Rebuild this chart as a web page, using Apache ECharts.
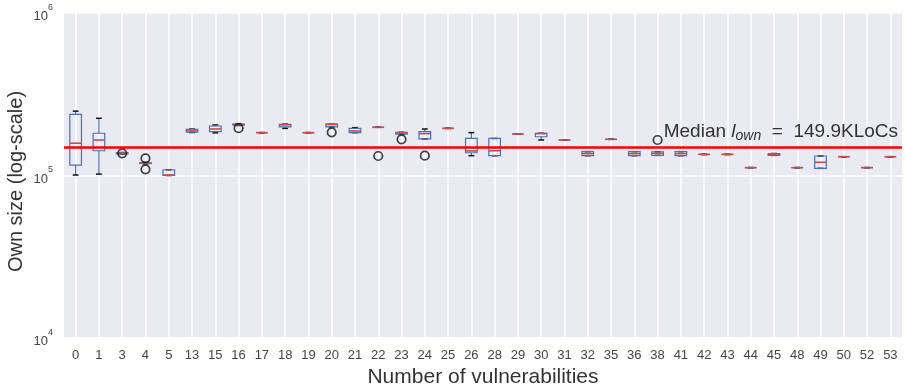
<!DOCTYPE html>
<html>
<head>
<meta charset="utf-8">
<script src="https://cdn.jsdelivr.net/npm/echarts@6/dist/echarts.min.js"></script>
<style>
  html, body { margin: 0; padding: 0; background: #ffffff; }
  #chart { width: 905px; height: 390px; }
</style>
</head>
<body>
<div id="chart"></div>
<script>
// Own code size (lines of code) per number of vulnerabilities, summarised as box plots.
const categories = ['0', '1', '3', '4', '5', '13', '15', '16', '17', '18', '19', '20', '21', '22', '23', '24', '25',
  '26', '28', '29', '30', '31', '32', '35', '36', '38', '41', '42', '43', '44', '45', '48', '49', '50', '52', '53'];

const whiskerLow = [100700, 102000, 135500, 118000, 100000, 184000, 183000, 203000, 183500, 195000, 183500, 199000,
  183500, 198000, 179800, 167800, 195000, 132400, 132400, 180000, 165400, 165400, 132400, 167000, 132400, 133000,
  132400, 134800, 134800, 111800, 133000, 111800, 110700, 130500, 111800, 130500];
const q1 = [116000, 142000, 136000, 118500, 100000, 185000, 186000, 204000, 183500, 199000, 183500, 199000,
  183500, 198000, 179800, 167800, 195000, 138000, 132400, 180000, 173200, 165400, 132400, 167000, 132400, 133000,
  132400, 134800, 134800, 111800, 133000, 111800, 110700, 130500, 111800, 130500];
const median = [158000, 165400, 137000, 119000, 100800, 188000, 193300, 206000, 183500, 205000, 183500, 206000,
  188000, 198000, 182800, 181000, 195000, 141600, 142000, 180000, 181000, 165400, 136300, 167000, 136300, 137000,
  136300, 134800, 134800, 111800, 134800, 111800, 120600, 130500, 111800, 130500];
const q3 = [238000, 182000, 138000, 119800, 108500, 192000, 201600, 207500, 183500, 206500, 183500, 207000,
  195000, 198000, 184500, 186000, 195000, 169400, 169000, 180000, 181900, 165400, 140200, 167000, 140200, 140000,
  140200, 134800, 134800, 111800, 136500, 111800, 131800, 130500, 111800, 130500];
const whiskerHigh = [249000, 225000, 138500, 120500, 108500, 193000, 204600, 208500, 183500, 207000, 183500, 207000,
  197000, 198000, 184500, 193300, 195000, 183600, 169000, 180000, 181900, 165400, 140200, 167000, 140200, 140000,
  140200, 134800, 134800, 111800, 136500, 111800, 131800, 130500, 111800, 130500];

// Fliers: [category, value]
const outliers = [
  ['3', 137000], ['4', 127600], ['4', 109200], ['16', 195500], ['20', 184500], ['22', 131800],
  ['23', 167000], ['24', 132500], ['38', 165400]
];

const overallMedian = 149900;
const yMin = 1e4;
const yMax = 1e6;

const BOX_BLUE = '#4C72B0';
const MEDIAN_RED = '#C44E52';
const FONT = 'Liberation Sans';

// Plot area layout
const W = 905, H = 390;
const GRID = { left: 64, right: 3, top: 13, bottom: 52 };
// Vertical grid lines sit on category centres: a second, inset grid carries them
const halfBand = (W - GRID.left - GRID.right) / categories.length / 2;

const boxData = categories.map((c, i) => [i, whiskerLow[i], q1[i], median[i], q3[i], whiskerHigh[i]]);

function renderBox(params, api) {
  const i = api.value(0);
  const lo = api.coord([i, api.value(1)]);
  const b1 = api.coord([i, api.value(2)]);
  const md = api.coord([i, api.value(3)]);
  const b3 = api.coord([i, api.value(4)]);
  const hi = api.coord([i, api.value(5)]);
  const band = api.coord([1, api.value(3)])[0] - api.coord([0, api.value(3)])[0];
  const bw = band * 0.5;
  const cw = bw * 0.5;
  const x = md[0];
  const thin = { stroke: BOX_BLUE, lineWidth: 1.2, fill: null };
  return {
    type: 'group',
    children: [
      { type: 'line', shape: { x1: x, y1: b3[1], x2: x, y2: hi[1] }, style: thin },
      { type: 'line', shape: { x1: x, y1: b1[1], x2: x, y2: lo[1] }, style: thin },
      { type: 'line', shape: { x1: x - cw / 2, y1: hi[1], x2: x + cw / 2, y2: hi[1] }, style: { stroke: '#111', lineWidth: 1.5 } },
      { type: 'line', shape: { x1: x - cw / 2, y1: lo[1], x2: x + cw / 2, y2: lo[1] }, style: { stroke: '#111', lineWidth: 1.5 } },
      { type: 'rect', shape: { x: x - bw / 2, y: b3[1], width: bw, height: b1[1] - b3[1] }, style: { stroke: BOX_BLUE, lineWidth: 1.2, fill: null } },
      { type: 'line', shape: { x1: x - bw / 2, y1: md[1], x2: x + bw / 2, y2: md[1] }, style: { stroke: MEDIAN_RED, lineWidth: 1.6 } }
    ]
  };
}

const chart = echarts.init(document.getElementById('chart'), null, { renderer: 'canvas', width: W, height: H });

chart.setOption({
  animation: false,
  backgroundColor: '#ffffff',
  textStyle: { fontFamily: FONT },
  grid: [
    {
      left: GRID.left, right: GRID.right, top: GRID.top, bottom: GRID.bottom,
      outerBoundsMode: 'none', containLabel: false,
      show: true, backgroundColor: '#EAEAF2', borderWidth: 0
    },
    {
      left: GRID.left + halfBand, right: GRID.right + halfBand, top: GRID.top, bottom: GRID.bottom,
      outerBoundsMode: 'none', containLabel: false,
      show: false
    }
  ],
  xAxis: [
    {
      type: 'category',
      gridIndex: 0,
      data: categories,
      boundaryGap: true,
      name: 'Number of vulnerabilities',
      nameLocation: 'middle',
      nameGap: 26,
      nameTextStyle: { fontSize: 21, color: '#333', fontFamily: FONT },
      axisLine: { show: false },
      axisTick: { show: false },
      axisLabel: { fontSize: 13, color: '#444', margin: 11, interval: 0, fontFamily: FONT },
      splitLine: { show: false }
    },
    {
      type: 'value',
      gridIndex: 1,
      min: 0,
      max: categories.length - 1,
      interval: 1,
      axisLine: { show: false },
      axisTick: { show: false },
      axisLabel: { show: false },
      splitLine: { show: true, lineStyle: { color: '#ffffff', width: 1.5 } }
    }
  ],
  yAxis: [
    {
      type: 'log',
      gridIndex: 0,
      logBase: 10,
      min: yMin,
      max: yMax,
      interval: 1,
      name: 'Own size (log-scale)',
      nameLocation: 'middle',
      nameGap: 38,
      nameMoveOverlap: false,
      nameTextStyle: { fontSize: 20, color: '#333', fontFamily: FONT, padding: [0, 12, 0, 0] },
      axisLine: { show: false },
      axisTick: { show: false },
      minorTick: { show: false },
      axisLabel: {
        margin: 11,
        color: '#444',
        formatter: v => '{b|10}{s|' + Math.round(Math.log10(v)) + '}',
        rich: {
          b: { fontSize: 13, color: '#444', lineHeight: 20, verticalAlign: 'bottom', fontFamily: FONT },
          s: { fontSize: 9, color: '#444', lineHeight: 10, verticalAlign: 'top', fontFamily: FONT }
        }
      },
      splitLine: { show: true, lineStyle: { color: '#ffffff', width: 1.5 } }
    },
    {
      type: 'value',
      gridIndex: 1,
      show: false,
      min: 0,
      max: 1,
      splitLine: { show: false }
    }
  ],
  series: [
    {
      type: 'custom',
      name: 'size',
      xAxisIndex: 0,
      yAxisIndex: 0,
      renderItem: renderBox,
      encode: { x: 0, y: [1, 2, 3, 4, 5] },
      data: boxData,
      z: 3
    },
    {
      type: 'scatter',
      name: 'fliers',
      xAxisIndex: 0,
      yAxisIndex: 0,
      data: outliers,
      symbol: 'circle',
      symbolSize: 8.5,
      itemStyle: { color: 'rgba(0,0,0,0)', borderColor: '#111', borderWidth: 1.7 },
      z: 4,
      markLine: {
        silent: true,
        symbol: ['none', 'none'],
        lineStyle: { color: '#ff0000', width: 2.5, type: 'solid' },
        data: [{ yAxis: overallMedian }],
        label: {
          show: true,
          position: 'insideEndTop',
          distance: 4,
          formatter: () => '{a|Median }{i|l}{s|own}{a|  =  ' + (overallMedian / 1000).toFixed(1) + 'KLoCs}',
          rich: {
            a: { fontSize: 19, color: '#333', lineHeight: 22, fontFamily: FONT },
            i: { fontSize: 19, color: '#333', lineHeight: 22, fontStyle: 'italic', fontFamily: FONT },
            s: { fontSize: 14, color: '#333', lineHeight: 14, fontStyle: 'italic', verticalAlign: 'bottom', fontFamily: FONT }
          }
        }
      }
    }
  ]
});
</script>
</body>
</html>
